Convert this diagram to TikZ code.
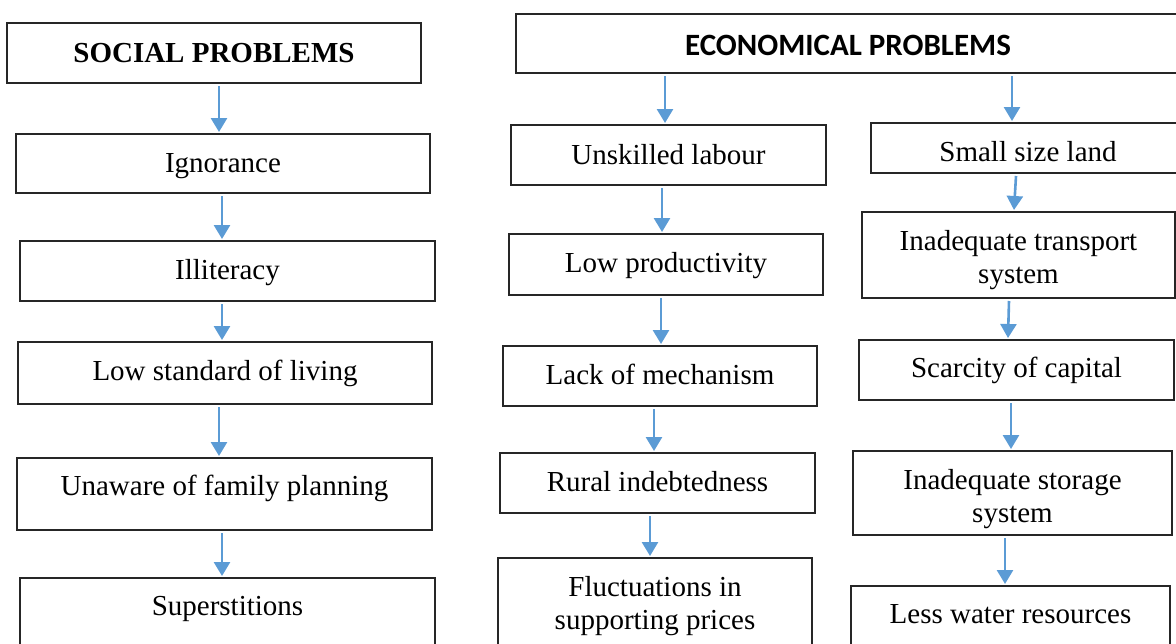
\documentclass[tikz,border=0pt]{standalone}
\usepackage{fontspec}
\setmainfont{Liberation Serif}
\newfontfamily\calfont{Carlito}
\usetikzlibrary{arrows.meta,calc}
\definecolor{arrblue}{RGB}{91,155,213}
\begin{document}
\begin{tikzpicture}[x=1pt,y=-1pt,
 box/.style={draw=black!85,line width=1.1pt,inner sep=0pt,outer sep=0pt,anchor=north west},
 txt/.style={anchor=base,inner sep=0pt,font=\fontsize{29}{33}\selectfont},
 arr/.style={draw=arrblue,line width=2.6pt,-{Triangle[width=16pt,length=14pt]}}]
\clip (0,0) rectangle (1176,643);
\fill[white] (0,0) rectangle (1176,643);
% ---------------- social column
\node[box,minimum width=414pt,minimum height=60pt] (s0) at (7,23) {};
\node[box,minimum width=414pt,minimum height=59pt] (s1) at (16,134) {};
\node[box,minimum width=415pt,minimum height=60pt] (s2) at (20,241) {};
\node[box,minimum width=414pt,minimum height=62pt] (s3) at (18,342) {};
\node[box,minimum width=415pt,minimum height=72pt] (s4) at (17,458) {};
\node[box,minimum width=415pt,minimum height=120pt] (s5) at (20,578) {};
\node[txt,font=\fontsize{29}{33}\selectfont\bfseries] (ts0) at ($(s0.north)+(0,39)$) {SOCIAL PROBLEMS};
\node[txt] (ts1) at ($(s1.north)+(0,38)$) {Ignorance};
\node[txt] (ts2) at ($(s2.north)+(0,38)$) {Illiteracy};
\node[txt] (ts3) at ($(s3.north)+(0,38)$) {Low standard of living};
\node[txt] (ts4) at ($(s4.north)+(0,37)$) {Unaware of family planning};
\node[txt] (ts5) at ($(s5.north)+(0,37)$) {Superstitions};
% ---------------- economical header
\node[box,minimum width=664pt,minimum height=59pt] (e0) at (516,14) {};
\node[txt,font=\fontsize{31}{33}\calfont\bfseries] (te0) at ($(e0.north)+(0,41)$) {ECONOMICAL PROBLEMS};
% ---------------- middle column
\node[box,minimum width=315pt,minimum height=60pt] (m1) at (511,125) {};
\node[box,minimum width=314pt,minimum height=61pt] (m2) at (509,234) {};
\node[box,minimum width=314pt,minimum height=60pt] (m3) at (503,346) {};
\node[box,minimum width=315pt,minimum height=60pt] (m4) at (500,453) {};
\node[box,minimum width=314pt,minimum height=140pt] (m5) at (498,558) {};
\node[txt] (tm1) at ($(m1.north)+(0,39)$) {Unskilled labour};
\node[txt] (tm2) at ($(m2.north)+(0,38)$) {Low productivity};
\node[txt] (tm3) at ($(m3.north)+(0,38)$) {Lack of mechanism};
\node[txt] (tm4) at ($(m4.north)+(0,38)$) {Rural indebtedness};
\node[txt] (tm5a) at ($(m5.north)+(0,38)$) {Fluctuations in};
\node[txt] (tm5b) at ($(m5.north)+(0,71)$) {supporting prices};
% ---------------- right column
\node[box,minimum width=314pt,minimum height=50pt] (r1) at (871,123) {};
\node[box,minimum width=313pt,minimum height=86pt] (r2) at (862,212) {};
\node[box,minimum width=315pt,minimum height=60pt] (r3) at (859,340) {};
\node[box,minimum width=319pt,minimum height=84pt] (r4) at (853,451) {};
\node[box,minimum width=319pt,minimum height=120pt] (r5) at (851,586) {};
\node[txt] (tr1) at ($(r1.north)+(0,38)$) {Small size land};
\node[txt] (tr2a) at ($(r2.north)+(0,38)$) {Inadequate transport};
\node[txt] (tr2b) at ($(r2.north)+(0,71)$) {system};
\node[txt] (tr3) at ($(r3.north)+(0,37)$) {Scarcity of capital};
\node[txt] (tr4a) at ($(r4.north)+(0,38)$) {Inadequate storage};
\node[txt] (tr4b) at ($(r4.north)+(0,71)$) {system};
\node[txt] (tr5) at ($(r5.north)+(0,37)$) {Less water resources};
% ---------------- arrows
\newcommand\conn[4]{\draw[arr] ($(#1.south)+(#3,3)$) -- ($(#2.north)+(#4,-2)$);}
\conn{s0}{s1}{5}{-4}
\conn{s1}{s2}{-1}{-5.5}
\conn{s2}{s3}{-5.5}{-3}
\conn{s3}{s4}{-6}{-5.5}
\conn{s4}{s5}{-2.5}{-5.5}
\conn{e0}{m1}{-183}{-3.5}
\conn{m1}{m2}{-6.5}{-4}
\conn{m2}{m3}{-5}{1}
\conn{m3}{m4}{-6}{-3.5}
\conn{m4}{m5}{-7.5}{-5}
\conn{e0}{r1}{164}{-16}
\conn{r1}{r2}{-12}{-4.5}
\conn{r2}{r3}{-9.5}{-8.5}
\conn{r3}{r4}{-5.5}{-1.5}
\conn{r4}{r5}{-7.5}{-5.5}
\end{tikzpicture}
\end{document}
